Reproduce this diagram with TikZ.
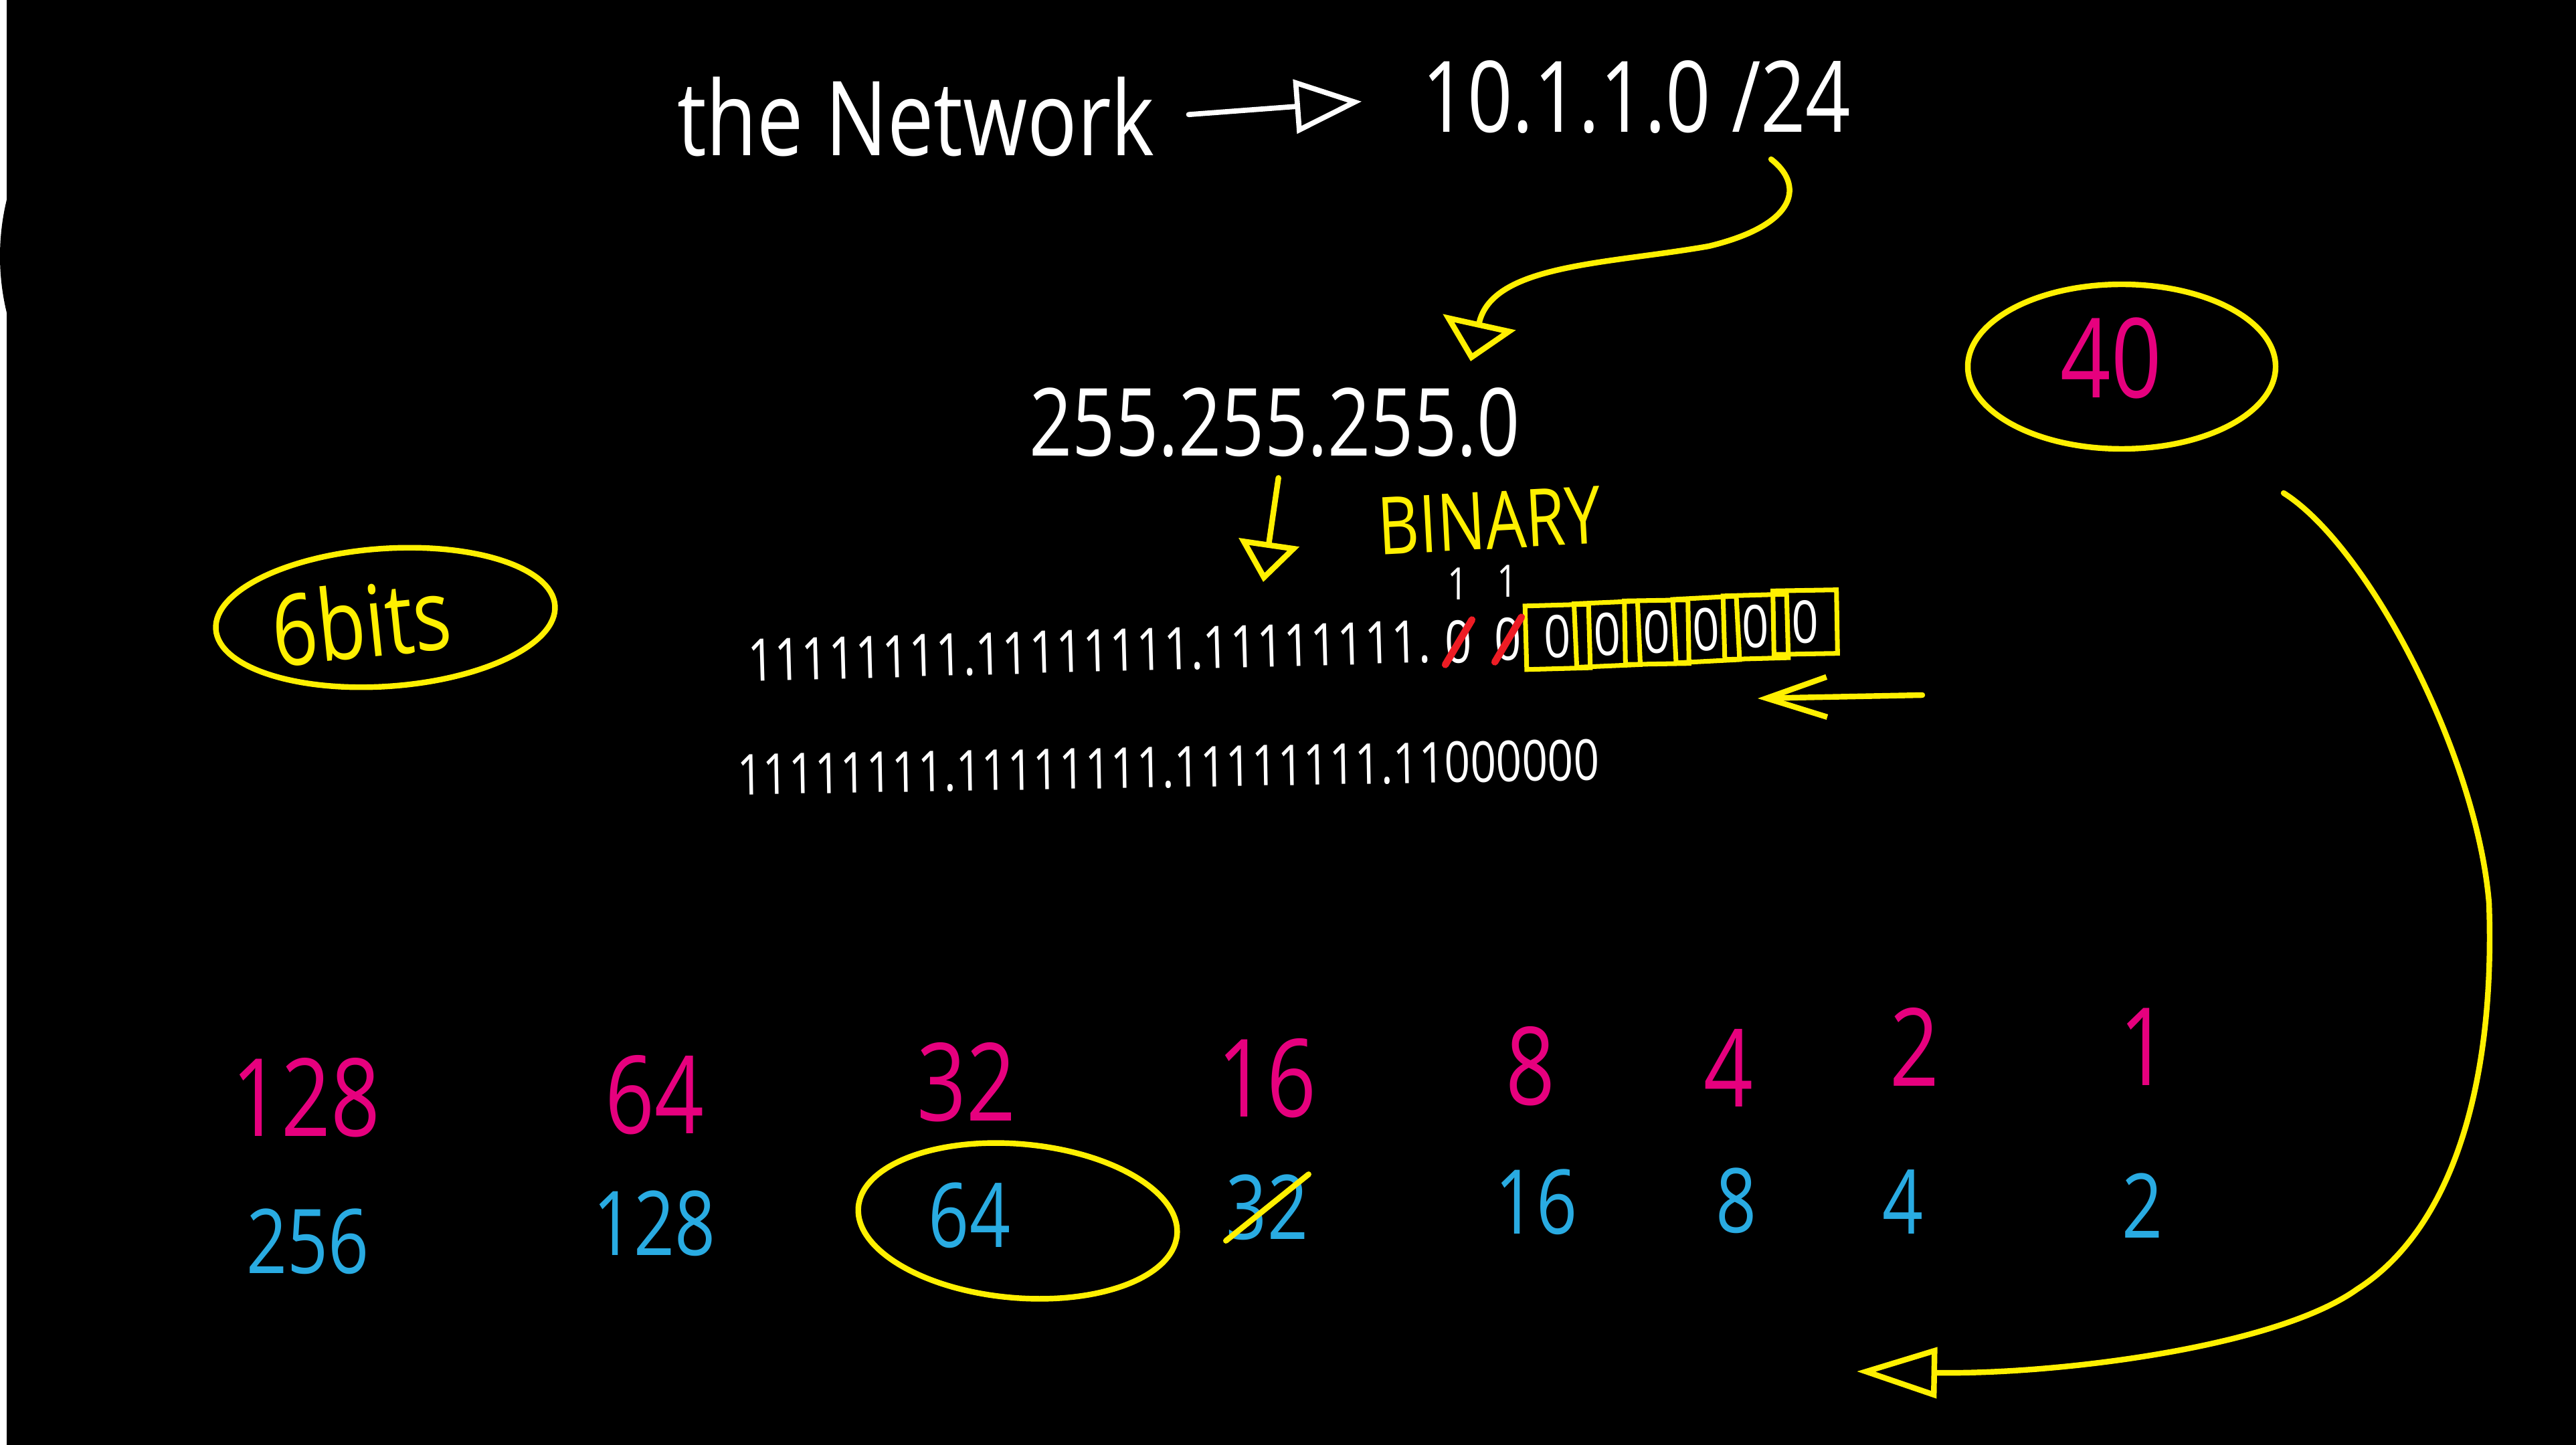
\documentclass[tikz,border=0pt]{standalone}
\usepackage{fontspec}
\newfontfamily\hand[FakeStretch=0.8]{Open Sans}
\usetikzlibrary{arrows.meta,positioning,shapes.geometric}
\definecolor{chalkpink}{RGB}{230,0,126}
\definecolor{chalkblue}{RGB}{41,171,226}
\definecolor{chalkyellow}{RGB}{255,240,0}
\definecolor{chalkred}{RGB}{237,28,36}
\tikzset{
  txt/.style={inner sep=0pt, text=white, font=\hand\fontsize{#1}{#1}\selectfont},
  pw/.style={txt=46, text=chalkpink},
  bw/.style={txt=38, text=chalkblue},
  chalk/.style={white, line width=2.2pt, line cap=round, line join=round},
  hl/.style={chalkyellow, line width=2.4pt, line cap=round, line join=round},
  ring/.style={draw=chalkyellow, line width=2.4pt, ellipse, inner sep=0pt},
  bitbox/.style={draw=chalkyellow, line width=2pt, minimum width=9.5mm, minimum height=9.5mm},
  slash/.style={chalkred, line width=3pt, line cap=round}
}
\begin{document}
\begin{tikzpicture}[x=1cm,y=-1cm]
    \useasboundingbox (0,0) rectangle (38.5,21.6);
    \fill[white] (0,0) rectangle (38.5,21.6);
    \fill[black] (0.1,0) rectangle (38.5,21.6);
    \fill[black] (3.58,3.83) circle (3.58);

    \node[txt=44] (net) at (13.69,1.75) {the Network};
    \node[txt=42] (cidr) at (24.46,1.45) {10.1.1.0 /24};
    \draw[chalk, -{Triangle[open, length=10mm, width=8mm]}, shorten <=5mm, shorten >=9mm] (net.east) -- (cidr.west);

    \node[txt=40] (mask) at (19.05,6.32) {255.255.255.0};
    \coordinate (a0) at (26.47,2.38);
    \coordinate (a1) at (21.98,5.40);
    \draw[hl, -{Triangle[open, length=6mm, width=11mm]}] (a0) .. controls (26.95,2.75) and (26.9,3.35) .. (25.54,3.68)
        .. controls (24.0,3.95) and (22.3,3.95) .. (a1);

    \node[txt=34, text=chalkyellow, rotate=3] (bin) at (22.26,7.78) {BINARY};
    \coordinate (bt) at (18.88,8.70);
    \draw[hl, -{Triangle[open, length=6mm, width=9mm]}, shorten <=3mm] ([xshift=1mm]mask.south) -- (bt);

    \node[txt=25, anchor=west, rotate=1.6] (ones) at (11.17,9.88) {11111111.11111111.11111111.};
    \node[txt=25, rotate=1.6] (z1) at (21.80,9.60) {0};
    \node[txt=25, rotate=1.6] (z2) at (22.54,9.56) {0};
    \node[txt=25, rotate=1.6, bitbox] (z3) at (23.28,9.52) {0};
    \node[txt=25, rotate=2.5, bitbox] (z4) at (24.02,9.48) {0};
    \node[txt=25, rotate=1, bitbox] (z5) at (24.76,9.45) {0};
    \node[txt=25, rotate=3, bitbox] (z6) at (25.50,9.41) {0};
    \node[txt=25, rotate=1.6, bitbox] (z7) at (26.24,9.37) {0};
    \node[txt=25, rotate=1, bitbox] (z8) at (26.98,9.30) {0};
    \draw[slash] (z1.south west) -- (z1.north east);
    \draw[slash] (z2.south west) -- (z2.north east);
    \node[txt=19, above=3mm of z1] (u1) {1};
    \node[txt=19, above=3mm of z2] (u2) {1};

    \coordinate (c0) at (28.73,10.39);
    \coordinate (c1) at (26.27,10.44);
    \draw[hl, -{Straight Barb[length=9mm, width=6mm]}] (c0) -- (c1);

    \node[txt=24, rotate=1] (sub) at (17.46,11.47) {11111111.11111111.11111111.11000000};

    \node[ring, minimum width=5.08cm, minimum height=2.06cm, rotate=4] (ring6) at (5.76,9.23) {};
    \node[txt=42, text=chalkyellow, rotate=6] (bits) at (5.40,9.28) {6bits};

    \node[ring, minimum width=4.6cm, minimum height=2.46cm] (ring40) at (31.71,5.48) {};
    \node[txt=47, text=chalkpink] (forty) at (31.55,5.35) {40};

    \node[pw] (p128) at (4.57,16.41) {128};
    \node[pw] (p64) at (9.78,16.37) {64};
    \node[pw] (p32) at (14.44,16.18) {32};
    \node[pw] (p16) at (18.93,16.12) {16};
    \node[pw] (p8) at (22.87,15.94) {8};
    \node[pw] (p4) at (25.83,15.96) {4};
    \node[pw] (p2) at (28.61,15.65) {2};
    \node[pw] (p1) at (32.04,15.65) {1};

    \node[bw] (b256) at (4.60,18.56) {256};
    \node[bw] (b128) at (9.78,18.29) {128};
    \node[bw] (b64) at (14.49,18.17) {64};
    \node[bw] (b32) at (18.94,18.05) {32};
    \node[bw] (b16) at (22.96,17.97) {16};
    \node[bw] (b8) at (25.95,17.95) {8};
    \node[bw] (b4) at (28.44,17.97) {4};
    \node[bw] (b2) at (32.02,18.02) {2};
    \node[ring, minimum width=4.78cm, minimum height=2.3cm, rotate=-5] (ring64) at (15.21,18.25) {};
    \draw[hl] (b32.south west) -- (b32.north east);

    \coordinate (d0) at (34.13,7.37);
    \coordinate (d1) at (27.75,20.50);
    \draw[hl, -{Triangle[open, length=12mm, width=7.5mm]}] (d0) .. controls (35.4,8.17) and (37.02,11.3) .. (37.2,13.5)
        .. controls (37.3,16.3) and (36.6,18.4) .. (35.23,19.27)
        .. controls (34.0,20.15) and (30.7,20.55) .. (d1);
\end{tikzpicture}
\end{document}
